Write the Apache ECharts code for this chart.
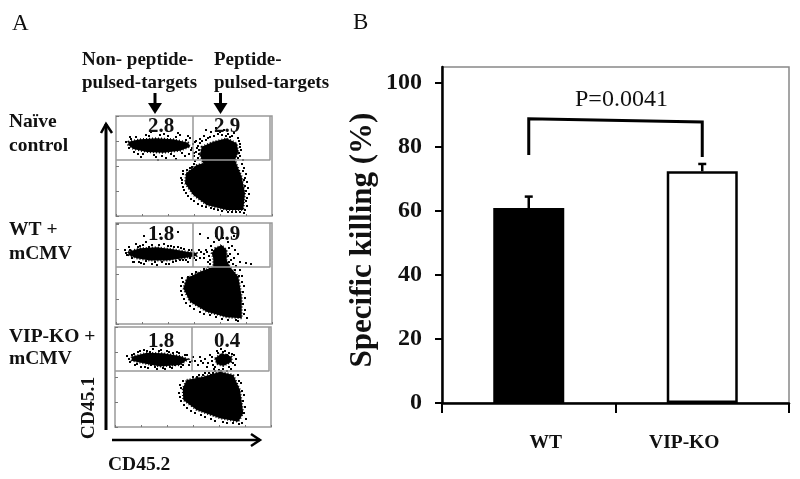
<!DOCTYPE html>
<html>
<head>
<meta charset="utf-8">
<script src="https://cdn.jsdelivr.net/npm/echarts@6/dist/echarts.min.js"></script>
<style>
  html, body { margin: 0; padding: 0; background: #fff; }
  #main { width: 800px; height: 479px; }
</style>
</head>
<body>
<div id="main"></div>
<script>
// panel B
const groups = ['WT', 'VIP-KO'];
const killing = [60.9, 72.4];
const killingErr = [3.6, 2.3];
const killingTicks = [0, 20, 40, 60, 80, 100];
const bracketLeft = [77.5, 88.8];
const bracketRight = [87.8, 76.9];
const pValue = 'P=0.0041';

// panel A, flow plots: gate percentages
const pctNaive = [[45, 89, '2.8'], [111, 89, '2.9']];
const pctWT = [[45, 89, '1.8'], [111, 89, '0.9']];
const pctKO = [[46, 85, '1.8'], [112, 85, '0.4']];

// gate lines [vertical x, horizontal y]
const gateNaive = [77, 56];
const gateWT = [77, 57];
const gateKO = [77, 56];

// dense parts of each population, outline
const denseNaive = [
  [[12.3,74.3],[24,76.7],[40.7,77.7],[57.3,76.7],[72.3,73.3],[74,69.3],[64,65.3],[47.3,63.3],[30.7,64],[17.3,67],[12.3,71]],
  [[85.7,69.3],[97.3,74.3],[110.7,77.7],[120.7,72.7],[122.3,64.3],[119,56],[125.7,39.3],[129,22.7],[127.3,6],[110.7,6],[90.7,11],[77.3,21],[69,32.7],[70,42.7],[80.7,51],[87.3,52.7],[84,61]]
];
const denseWT = [
  [[12.3,72.3],[24,75.7],[40.7,76.7],[57.3,74.7],[70.7,72.3],[80.7,71],[80.7,68],[67.3,65.7],[50.7,63.5],[34,63.5],[20.7,65.7],[12.3,69]],
  [[99,75.7],[105.7,79],[110.7,74],[110.7,64],[114,57.3],[122.3,47.3],[125.7,27.3],[125.7,5.7],[110.7,6.7],[90.7,12.3],[74,22.3],[67.3,35.7],[70.7,45.7],[84,52.3],[97.3,57.3],[97.3,65.7],[95.7,70.7]]
];
const denseKO = [
  [[16.7,70.3],[31.7,74.3],[48.3,73.7],[65,71],[73.3,67.7],[65,62],[45,60.5],[28.3,63.7],[16.7,66.3]],
  [[100,68.7],[106.7,73.7],[116.7,70.3],[116.7,65.3],[108.3,61],[101.7,63]],
  [[71.7,47],[88.3,50.3],[105,55.3],[118.3,52],[125,37],[128.3,13.7],[123.3,5.3],[105,8.7],[81.7,17],[68.3,27],[67.7,38.7]]
];

// loose events around those populations
const looseNaive = [
  [10,74],[13,68],[15,77],[20,79],[18,64],[27,62],[33,80],[38,61],[44,81],[46,60],[52,80],[55,62],[60,79],[66,63],[70,76],[73,62],
  [75,66],[77,72],[78,60],[72,80],[80,75],[82,70],[80,64],[82,58],[79,55],[84,77],[88,80],[92,78],[90,86],[95,84],[100,88],[104,84],
  [108,86],[112,82],[116,80],[118,83],[122,78],[124,72],[125,66],[124,60],[127,56],[128,48],[130,42],[131,34],[132,28],[130,15],
  [131,10],[128,3],[120,4],[112,4],[102,6],[95,8],[86,10],[78,15],[72,20],[68,26],[66,33],[65,38],[67,45],[74,48],[42,56],[60,57],
  [25,59],[50,58],[35,84],[62,83],[84,73],[76,68],[83,66],[128,36],[129,30],[133,22],
  [14,79],[22,62],[30,81],[40,59],[48,82],[58,60],[64,81],[69,60],[74,78],[79,74],[81,68],[78,63],[83,62],[86,75],[90,76],[94,79],
  [98,80],[102,82],[106,81],[110,80],[114,79],[123,75],[124,69],[123,63],[122,58],[126,52],[127,45],[129,38],[130,25],[131,18],
  [129,6],[124,4],[116,4],[106,5],[98,7],[90,9],[82,12],[75,17],[70,23],[67,29],[66,36],[67,42],[71,46],[76,49],[78,52]
];
const looseWT = [
  [9,74],[11,69],[13,77],[16,66],[20,80],[18,62],[25,61],[24,78],[30,63],[30,82],[36,60],[36,79],[41,59],[46,62],[48,80],[53,60],
  [55,78],[60,63],[62,77],[67,64],[68,75],[72,62],[74,66],[76,74],[80,64],[85,72],[88,66],[90,74],[93,68],[92,62],[95,78],[98,82],
  [100,88],[103,84],[107,86],[112,82],[116,78],[119,74],[122,70],[118,66],[124,62],[120,58],[124,54],[126,48],[128,38],[129,26],
  [129,14],[131,6],[122,3],[112,4],[100,7],[88,10],[78,15],[70,21],[66,29],[65,38],[66,46],[76,50],[88,55],[92,57],[130,61],[135,60],
  [28,88],[44,90],[62,92],[84,90],[92,86],[118,88],
  [10,71],[14,74],[17,62],[22,77],[23,62],[27,79],[28,60],[33,77],[39,62],[43,79],[50,60],[52,78],[57,62],[58,77],[64,64],[65,76],
  [70,64],[73,74],[78,66],[83,74],[84,66],[88,70],[91,72],[94,64],[96,74],[94,60],[113,76],[114,70],[115,64],[117,60],[119,54],
  [112,68],[113,62],[123,48],[126,42],[127,32],[127,20],[128,10],[120,4],[106,5],[94,9],[84,12],[74,18],[68,25],[65,33],[67,42],[72,47],[80,52]
];
const looseKO = [
  [12,71],[15,65],[19,73],[22,63],[25,76],[27,68],[30,60],[32,76],[36,62],[38,78],[42,58],[46,77],[48,59],[52,76],[55,60],[58,74],
  [60,62],[64,74],[68,62],[72,72],[75,65],[78,70],[80,66],[83,62],[85,70],[88,64],[90,68],[92,60],[95,72],[97,66],[99,58],[98,54],
  [102,76],[106,78],[110,76],[114,74],[119,72],[121,68],[120,62],[114,60],[108,58],[104,57],[112,56],[96,52],[90,54],[84,52],[78,50],
  [123,52],[126,44],[129,32],[130,20],[131,8],[124,3],[112,4],[100,6],[90,10],[80,14],[72,19],[66,26],[64,34],[65,42],[68,46],
  [14,68],[17,72],[20,62],[23,75],[26,60],[29,77],[33,59],[35,75],[40,60],[44,76],[50,58],[54,75],[57,59],[62,75],[66,60],[70,72],
  [74,62],[77,66],[86,66],[93,64],[97,70],[98,62],[100,60],[103,74],[108,75],[112,72],[117,73],[118,64],[116,58],[106,56],[100,56],
  [94,54],[88,52],[82,50],[124,46],[127,36],[128,26],[129,14],[127,4],[118,4],[108,5],[96,8],[86,12],[76,16],[69,22],[65,30],[66,39]
];

const flowGrids = [
  { left: 116, top: 116, height: 100, dense: denseNaive, loose: looseNaive, pct: pctNaive, gate: gateNaive },
  { left: 116, top: 223, height: 101, dense: denseWT, loose: looseWT, pct: pctWT, gate: gateWT },
  { left: 115, top: 327, height: 100, dense: denseKO, loose: looseKO, pct: pctKO, gate: gateKO }
];
const FLOW_W = 156;
const GATE_R = 154;
const SERIF = '"Liberation Serif", "Times New Roman", serif';

const grids = [], xAxes = [], yAxes = [], series = [];

flowGrids.forEach((p, i) => {
  grids.push({ left: p.left, top: p.top, width: FLOW_W, height: p.height, show: true, borderColor: '#999', borderWidth: 1.5 });
  xAxes.push({
    gridIndex: i, type: 'value', min: 0, max: FLOW_W, interval: 26,
    axisLine: { show: false }, axisLabel: { show: false }, splitLine: { show: false },
    axisTick: { show: true, inside: true, length: 2, lineStyle: { color: '#777' } }
  });
  yAxes.push({
    gridIndex: i, type: 'value', min: 0, max: p.height, interval: 25,
    axisLine: { show: false }, axisLabel: { show: false }, splitLine: { show: false },
    axisTick: { show: true, inside: true, length: 3, lineStyle: { color: '#777' } }
  });
  // gate lines
  const gateStyle = { color: '#999', width: 1.5 };
  series.push({
    type: 'line', xAxisIndex: i, yAxisIndex: i, silent: true, showSymbol: false, lineStyle: gateStyle,
    data: [[0, p.gate[1]], [GATE_R, p.gate[1]], [GATE_R, p.height]]
  });
  series.push({
    type: 'line', xAxisIndex: i, yAxisIndex: i, silent: true, showSymbol: false, lineStyle: gateStyle,
    data: [[p.gate[0], p.gate[1]], [p.gate[0], p.height]]
  });
  series.push({
    type: 'custom', xAxisIndex: i, yAxisIndex: i, silent: true,
    data: p.dense.map((d, k) => [k, 0]),
    renderItem: (params, api) => ({
      type: 'polygon',
      shape: { points: p.dense[params.dataIndex].map((pt) => api.coord(pt)) },
      style: { fill: '#000', stroke: '#000', lineWidth: 2, lineDash: [1, 2] }
    })
  });
  series.push({
    type: 'scatter', xAxisIndex: i, yAxisIndex: i, silent: true,
    symbol: 'rect', symbolSize: 2, itemStyle: { color: '#000', opacity: 1 }, data: p.loose
  });
  series.push({
    type: 'scatter', xAxisIndex: i, yAxisIndex: i, silent: true, symbolSize: 0, z: 5,
    itemStyle: { opacity: 1 },
    data: p.pct,
    label: {
      show: true, position: 'inside', formatter: (o) => o.value[2],
      fontFamily: SERIF, fontWeight: 'bold', fontSize: 21, color: '#111'
    }
  });
});

// panel B grid
grids.push({ left: 442, right: 11, top: 67, bottom: 76, show: true, borderColor: '#888', borderWidth: 1.5 });
xAxes.push({
  gridIndex: 3, type: 'category',
  data: [
    { value: groups[0], textStyle: { padding: [0, 0, 0, 34] } },
    { value: groups[1], textStyle: { padding: [0, 36, 0, 0] } }
  ],
  axisLine: { lineStyle: { color: '#000', width: 2.5 } },
  axisTick: { show: true, length: 10, lineStyle: { color: '#000', width: 2 } },
  axisLabel: { margin: 30, fontFamily: SERIF, fontWeight: 'bold', fontSize: 19.5, color: '#111' }
});
yAxes.push({
  gridIndex: 3, type: 'value', min: 0, max: 105, interval: 20,
  name: 'Specific killing (%)', nameLocation: 'middle', nameGap: 64,
  nameTextStyle: { fontFamily: SERIF, fontWeight: 'bold', fontSize: 31, color: '#111', padding: [0, 10, 0, 0] },
  splitLine: { show: false },
  axisLine: { show: true, lineStyle: { color: '#000', width: 2.5 } },
  axisTick: { show: true, length: 7, customValues: killingTicks, lineStyle: { color: '#000', width: 2 } },
  axisLabel: { margin: 20, customValues: killingTicks, fontFamily: SERIF, fontWeight: 'bold', fontSize: 24, color: '#111' }
});

series.push({
  type: 'bar', xAxisIndex: 3, yAxisIndex: 3, barWidth: 71, silent: true,
  data: [
    { value: killing[0], itemStyle: { color: '#000' } },
    { value: killing[1], itemStyle: { color: '#fff', borderColor: '#000', borderWidth: 2.5 } }
  ]
});
series.push({
  type: 'custom', xAxisIndex: 3, yAxisIndex: 3, silent: true, z: 4,
  data: groups.map((g, i) => [i, killing[i], killing[i] + killingErr[i]]),
  renderItem: (params, api) => {
    const lo = api.coord([api.value(0), api.value(1)]);
    const hi = api.coord([api.value(0), api.value(2)]);
    const st = { stroke: '#000', lineWidth: 2.5 };
    return {
      type: 'group',
      children: [
        { type: 'line', shape: { x1: lo[0], y1: lo[1], x2: hi[0], y2: hi[1] }, style: st },
        { type: 'line', shape: { x1: hi[0] - 4, y1: hi[1], x2: hi[0] + 4, y2: hi[1] }, style: st }
      ]
    };
  }
});
series.push({
  type: 'custom', xAxisIndex: 3, yAxisIndex: 3, silent: true, z: 4,
  data: [[0, bracketLeft[0]]],
  renderItem: (params, api) => ({
    type: 'polyline',
    shape: {
      points: [
        api.coord([0, bracketLeft[0]]), api.coord([0, bracketLeft[1]]),
        api.coord([1, bracketRight[0]]), api.coord([1, bracketRight[1]])
      ]
    },
    style: { stroke: '#000', lineWidth: 3, fill: null }
  })
});

function txt(x, y, text, size, bold, extra) {
  return Object.assign({
    type: 'text', x: x, y: y,
    style: {
      text: text, fontFamily: SERIF, fontSize: size, fontWeight: bold ? 'bold' : 'normal',
      fill: '#111', textAlign: 'left', textVerticalAlign: 'middle'
    }
  }, extra || {});
}
function downArrow(x) {
  return [
    { type: 'line', shape: { x1: x, y1: 93, x2: x, y2: 106 }, style: { stroke: '#000', lineWidth: 3 } },
    { type: 'polygon', shape: { points: [[x - 7, 103], [x + 7, 103], [x, 114]] }, style: { fill: '#000' } }
  ];
}
const graphics = [
  txt(12, 24, 'A', 23, false),
  txt(353, 23, 'B', 23, false),
  txt(82, 60, 'Non- peptide-', 19, true),
  txt(82, 83, 'pulsed-targets', 19, true),
  txt(214, 60, 'Peptide-', 19, true),
  txt(214, 83, 'pulsed-targets', 19, true),
  txt(9, 122, 'Naïve', 19.5, true),
  txt(9, 146, 'control', 19.5, true),
  txt(9, 230, 'WT +', 19.5, true),
  txt(9, 254, 'mCMV', 19.5, true),
  txt(9, 337, 'VIP-KO +', 19.5, true),
  txt(9, 359, 'mCMV', 19.5, true),
  txt(108, 465, 'CD45.2', 19.5, true),
  Object.assign(txt(89, 408, 'CD45.1', 19.5, true), { rotation: Math.PI / 2 }),
  txt(575, 100, pValue, 24, false),
  ...downArrow(155),
  ...downArrow(220.5),
  // long axis arrows of the flow plots
  { type: 'line', shape: { x1: 106, y1: 430, x2: 106, y2: 124 }, style: { stroke: '#000', lineWidth: 3 } },
  { type: 'polyline', shape: { points: [[101, 133], [106, 124], [112, 133]] }, style: { stroke: '#000', lineWidth: 2.5, fill: null } },
  { type: 'line', shape: { x1: 112, y1: 440, x2: 260, y2: 440 }, style: { stroke: '#000', lineWidth: 2.5 } },
  { type: 'polyline', shape: { points: [[251, 434], [260, 440], [251, 446]] }, style: { stroke: '#000', lineWidth: 2.5, fill: null } }
];
// CD45.1 reads bottom to top, its anchor is its centre
graphics[13].style.textAlign = 'center';

const chart = echarts.init(document.getElementById('main'));
chart.setOption({
  animation: false,
  backgroundColor: '#fff',
  grid: grids,
  xAxis: xAxes,
  yAxis: yAxes,
  series: series,
  graphic: graphics
});
</script>
</body>
</html>
